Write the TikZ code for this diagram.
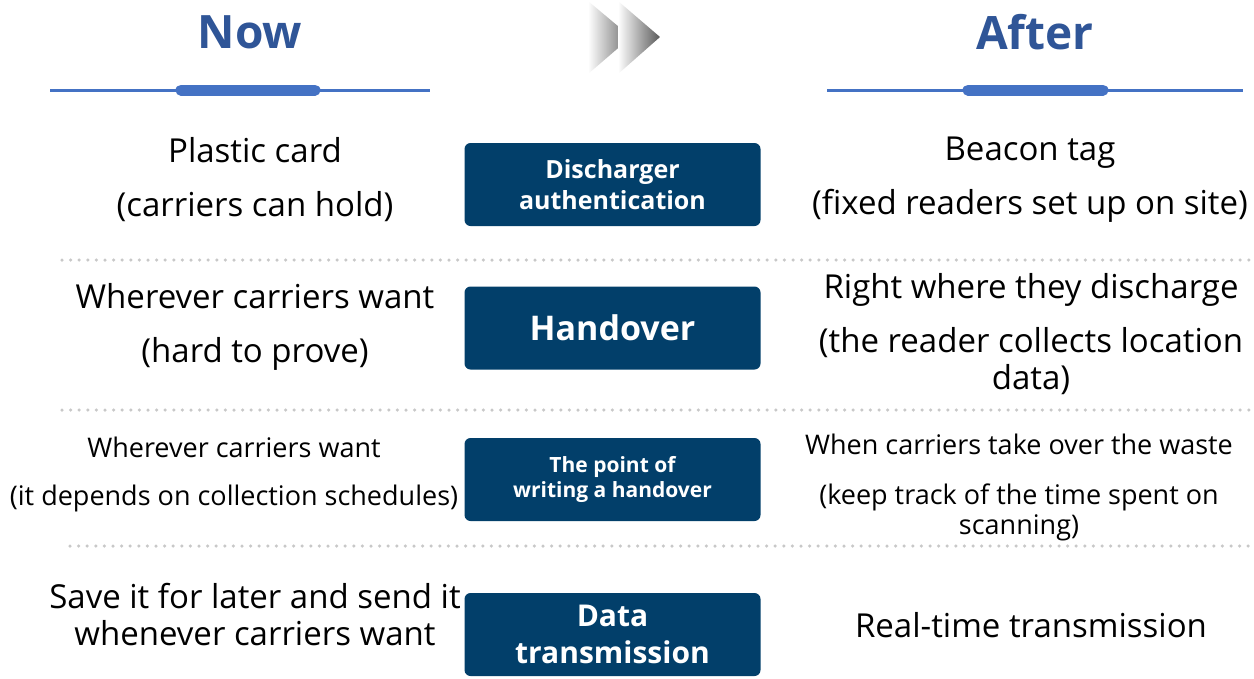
\documentclass[tikz,border=0pt]{standalone}
\usepackage{fontspec}
\setmainfont{Open Sans}
\usepackage{tikz}
\usetikzlibrary{positioning,calc}

\definecolor{titleblue}{HTML}{2F5597}
\definecolor{lineblue}{HTML}{4472C4}
\definecolor{boxnavy}{HTML}{023F6A}
\definecolor{dotgray}{HTML}{C8C8C8}

\begin{document}
\begin{tikzpicture}[
  x=1pt, y=-1pt,
  head/.style={font=\fontsize{46}{50}\selectfont\bfseries, text=titleblue},
  txt/.style={font=\fontsize{33}{37}\selectfont, align=center, inner sep=0pt},
  small/.style={font=\fontsize{27}{30}\selectfont, align=center, inner sep=0pt},
  box/.style={fill=boxnavy, rounded corners=6pt, minimum width=296pt, minimum height=83pt, text=white, align=center, inner sep=0pt},
  rule/.style={lineblue, line width=3pt},
  bar/.style={lineblue, line width=11pt, line cap=round},
  dots/.style={dotgray, line width=3.5pt, line cap=round, dash pattern=on 0pt off 8.6pt}
]
  \useasboundingbox (0,0) rectangle (1254,678);

  % Headings
  \node[head] (now) at (250,32) {Now};
  \node[head] (after) at (1035,32) {After};

  % Rules under headings
  \coordinate (nl) at (50,90);
  \coordinate (nr) at (430,90);
  \coordinate (al) at (827,90);
  \coordinate (ar) at (1243,90);
  \coordinate (nbl) at (181,90);
  \coordinate (nbr) at (315,90);
  \coordinate (abl) at (968,90);
  \coordinate (abr) at (1103,90);
  \draw[rule] (nl) -- (nr);
  \draw[rule] (al) -- (ar);
  \draw[bar] (nbl) -- (nbr);
  \draw[bar] (abl) -- (abr);

  % Chevrons
  \shade[left color=white, right color=black!60] (588,1) -- (631,37) -- (588,74) -- cycle;
  \shade[left color=white, right color=black!65] (618,1) -- (660,37) -- (618,74) -- cycle;

  % Middle boxes
  \node[box, font=\fontsize{25}{31}\selectfont\bfseries] (auth) at (612.5,184.5) {Discharger\\authentication};
  \node[box, font=\fontsize{34}{38}\selectfont\bfseries] (hand) at (612.5,328) {Handover};
  \node[box, font=\fontsize{21}{25}\selectfont\bfseries] (point) at (612.5,479.5) {The point of\\writing a handover};
  \node[box, font=\fontsize{30}{37}\selectfont\bfseries] (data) at (612.5,634.5) {Data\\transmission};

  % Now column
  \node[txt] (nowa) at (255,180) {Plastic card\\[17pt](carriers can hold)};
  \node[txt] (nowb) at (255,327) {Wherever carriers want\\[17pt](hard to prove)};
  \node[small] (nowc) at (234,474) {Wherever carriers want\\[18pt](it depends on collection schedules)};
  \node[txt] (nowd) at (255,615) {Save it for later and send it\\whenever carriers want};

  % After column
  \node[txt] (afta) at (1030,180) {Beacon tag\\[17pt](fixed readers set up on site)};
  \node[txt] (aftb) at (1031,334) {Right where they discharge\\[17pt](the reader collects location\\data)};
  \node[small] (aftc) at (1019,487) {When carriers take over the waste\\[20pt](keep track of the time spent on\\scanning)};
  \node[txt] (aftd) at (1031,625) {Real-time transmission};

  % Separators
  \coordinate (sa) at (62,260);
  \coordinate (sb) at (62,410);
  \coordinate (sc) at (70,546);
  \draw[dots] (sa) -- ++(1188,0);
  \draw[dots] (sb) -- ++(1188,0);
  \draw[dots] (sc) -- ++(1180,0);
\end{tikzpicture}
\end{document}
